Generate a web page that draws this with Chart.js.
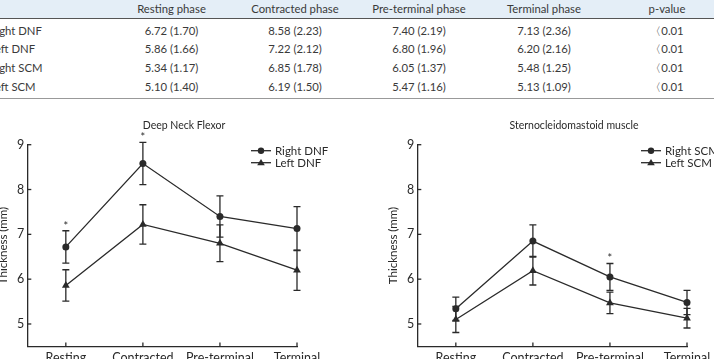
<!DOCTYPE html>
<html>
<head>
<meta charset="utf-8">
<script src="https://cdn.jsdelivr.net/npm/chart.js@4/dist/chart.umd.min.js"></script>
<style>
  html, body { margin: 0; padding: 0; background: #fff; }
  body { width: 714px; height: 359px; overflow: hidden; position: relative;
         font-family: Lato, sans-serif; color: #3a3a3a; }
  .cell { position: absolute; height: 16px; line-height: 16px; font-size: 11.3px; white-space: nowrap; }
  canvas { position: absolute; }
</style>
</head>
<body>
<div id="tbl"></div>
<canvas id="c1" width="380" height="280" style="left:-33px;top:110px;width:380px;height:280px"></canvas>
<canvas id="c2" width="380" height="280" style="left:357px;top:110px;width:380px;height:280px"></canvas>
<script>
// ---------- data ----------
const phases = ['Resting', 'Contracted', 'Pre-terminal', 'Terminal'];
const tableHeader = ['Resting phase', 'Contracted phase', 'Pre-terminal phase', 'Terminal phase', 'p-value'];
const rowLabels = ['Right DNF', 'Left DNF', 'Right SCM', 'Left SCM'];
const rightDNF = [6.72, 8.58, 7.40, 7.13];
const leftDNF  = [5.86, 7.22, 6.80, 6.20];
const rightSCM = [5.34, 6.85, 6.05, 5.48];
const leftSCM  = [5.10, 6.19, 5.47, 5.13];
const rightDNFsd = [1.70, 2.23, 2.19, 2.36];
const leftDNFsd  = [1.66, 2.12, 1.96, 2.16];
const rightSCMsd = [1.17, 1.78, 1.37, 1.25];
const leftSCMsd  = [1.40, 1.50, 1.16, 1.09];
const pValues = ['〈0.01', '〈0.01', '〈0.01', '〈0.01'];
// error bars as drawn in the figure
const rightDNFerr = [0.36, 0.47, 0.46, 0.49];
const leftDNFerr  = [0.35, 0.44, 0.41, 0.45];
const rightSCMerr = [0.26, 0.36, 0.30, 0.27];
const leftSCMerr  = [0.29, 0.32, 0.24, 0.22];
// significance marks
const rightDNFstar = [true, true, false, false];
const rightSCMstar = [false, false, true, false];
const yTicks = [5, 6, 7, 8, 9];

// ---------- table ----------
(function buildTable(){
  const tbl = document.getElementById('tbl');
  const colX = [171.5, 295, 419, 544, 667];
  const rowY = [30.5, 49.3, 68, 87.3];
  function add(html, style){ const d = document.createElement('div'); d.className='cell'; d.textContent = html; Object.assign(d.style, style); tbl.appendChild(d); return d; }
  const bg = document.createElement('div');
  Object.assign(bg.style, {position:'absolute', left:'0', top:'0', width:'714px', height:'18px', background:'#e4eef7'});
  tbl.appendChild(bg);
  const l1 = document.createElement('div');
  Object.assign(l1.style, {position:'absolute', left:'0', top:'18px', width:'714px', height:'1px', background:'#555'});
  tbl.appendChild(l1);
  const l2 = document.createElement('div');
  Object.assign(l2.style, {position:'absolute', left:'0', top:'97.5px', width:'714px', height:'1.5px', background:'#999'});
  tbl.appendChild(l2);
  tableHeader.forEach((h,i)=> add(h, {left:(colX[i]-60)+'px', width:'120px', textAlign:'center', top:(8.5-8)+'px'}));
  const means = [rightDNF, leftDNF, rightSCM, leftSCM];
  const sds = [rightDNFsd, leftDNFsd, rightSCMsd, leftSCMsd];
  rowLabels.forEach((lab, r) => {
    add(lab, {left:'-10.5px', top:(rowY[r]-8)+'px'});
    for (let c = 0; c < 4; c++) {
      add(means[r][c].toFixed(2) + ' (' + sds[r][c].toFixed(2) + ')', {left:(colX[c]-60)+'px', width:'120px', textAlign:'center', top:(rowY[r]-8)+'px'});
    }
    add(pValues[r], {left:(colX[4]-60)+'px', width:'120px', textAlign:'center', top:(rowY[r]-8)+'px'});
  });
})();

// ---------- charts ----------
const FONT = 'Lato, sans-serif';
const INK = '#2a2a2a';

const extrasPlugin = {
  id: 'extras',
  beforeDatasetsDraw(chart) {
    const ctx = chart.ctx, xs = chart.scales.x, ys = chart.scales.y;
    const cfg = chart.options.plugins.extras;
    ctx.save();
    ctx.strokeStyle = INK; ctx.lineWidth = 1.3;
    ys.ticks.forEach(t => { const y = ys.getPixelForValue(t.value); ctx.beginPath(); ctx.moveTo(xs.left, y); ctx.lineTo(xs.left + 4, y); ctx.stroke(); });
    xs.ticks.forEach(t => { const x = xs.getPixelForValue(t.value); ctx.beginPath(); ctx.moveTo(x, ys.bottom); ctx.lineTo(x, ys.bottom - 4); ctx.stroke(); });
    cfg.errors.forEach((errs, di) => {
      const vals = chart.data.datasets[di].data;
      vals.forEach((p, i) => {
        const x = xs.getPixelForValue(p.x);
        const yt = ys.getPixelForValue(p.y + errs[i]);
        const yb = ys.getPixelForValue(p.y - errs[i]);
        ctx.beginPath();
        ctx.moveTo(x, yt); ctx.lineTo(x, yb);
        ctx.moveTo(x - 3.5, yt); ctx.lineTo(x + 3.5, yt);
        ctx.moveTo(x - 3.5, yb); ctx.lineTo(x + 3.5, yb);
        ctx.stroke();
      });
    });
    ctx.restore();
  },
  afterDatasetsDraw(chart) {
    const ctx = chart.ctx, xs = chart.scales.x, ys = chart.scales.y;
    const cfg = chart.options.plugins.extras;
    ctx.save();
    ctx.fillStyle = INK;
    ctx.font = '11px ' + FONT; ctx.textAlign = 'center'; ctx.textBaseline = 'alphabetic';
    cfg.stars.forEach((flags, di) => {
      if (!flags) return;
      const vals = chart.data.datasets[di].data;
      flags.forEach((f, i) => {
        if (!f) return;
        const x = xs.getPixelForValue(vals[i].x);
        const y = ys.getPixelForValue(vals[i].y + cfg.errors[di][i]);
        ctx.fillText('*', x, y - 1);
      });
    });
    ctx.font = '10.5px ' + FONT; ctx.textBaseline = 'middle';
    ctx.fillText(cfg.title, 217, 16);
    const lx = 284, lw = 20;
    chart.data.datasets.forEach((ds, i) => {
      const y = 40.7 + i * 12;
      ctx.strokeStyle = INK; ctx.lineWidth = 1.3;
      ctx.beginPath(); ctx.moveTo(lx, y); ctx.lineTo(lx + lw, y); ctx.stroke();
      const cx = lx + lw / 2;
      ctx.beginPath();
      if (ds.pointStyle === 'triangle') {
        ctx.moveTo(cx, y - 3.8); ctx.lineTo(cx + 3.8, y + 2.6); ctx.lineTo(cx - 3.8, y + 2.6); ctx.closePath();
      } else {
        ctx.arc(cx, y, 3.2, 0, Math.PI * 2);
      }
      ctx.fill();
      ctx.font = '11.5px ' + FONT; ctx.textAlign = 'left'; ctx.textBaseline = 'middle';
      ctx.fillText(ds.label, lx + lw + 4, y + 0.5);
    });
    ctx.restore();
  }
};

function makeChart(id, title, labels, series, errors, stars) {
  const styles = ['circle', 'triangle'];
  return new Chart(document.getElementById(id), {
    type: 'line',
    data: {
      datasets: series.map((s, k) => ({
        label: labels[k],
        data: s.map((v, i) => ({ x: i, y: v })),
        borderColor: INK, backgroundColor: INK,
        borderWidth: 1.3,
        pointStyle: styles[k],
        pointRadius: k === 0 ? 3.5 : 4.5,
        pointBorderWidth: 0,
        pointBackgroundColor: INK,
        tension: 0, clip: false
      }))
    },
    options: {
      responsive: false, animation: false, devicePixelRatio: 1,
      layout: { padding: { top: 34.7, right: 50, left: 0, bottom: 0 } },
      plugins: { legend: { display: false }, tooltip: { enabled: false }, title: { display: false },
        extras: { title: title, errors: errors, stars: stars } },
      scales: {
        x: {
          type: 'linear', min: -0.5, max: 3,
          grid: { display: false, drawTicks: false },
          border: { display: true, color: INK, width: 1.3 },
          afterBuildTicks: s => { s.ticks = phases.map((p, i) => ({ value: i })); },
          afterFit: s => { s.height = 43.6; },
          ticks: { padding: 4, color: INK, font: { family: FONT, size: 12.5 }, maxRotation: 0, autoSkip: false,
                   callback: v => phases[v] }
        },
        y: {
          min: 4.5, max: 9,
          grid: { display: false, drawTicks: false },
          border: { display: true, color: INK, width: 1.3 },
          afterBuildTicks: s => { s.ticks = yTicks.map(v => ({ value: v })); },
          afterFit: s => { s.width = 60.3; },
          ticks: { padding: 3, color: INK, font: { family: FONT, size: 12.5 } },
          title: { display: true, text: 'Thickness (mm)', color: INK, font: { family: FONT, size: 11.5 }, padding: { top: 29, bottom: 0 } }
        }
      }
    },
    plugins: [extrasPlugin]
  });
}

makeChart('c1', 'Deep Neck Flexor', ['Right DNF', 'Left DNF'], [rightDNF, leftDNF], [rightDNFerr, leftDNFerr], [rightDNFstar, null]);
makeChart('c2', 'Sternocleidomastoid muscle', ['Right SCM', 'Left SCM'], [rightSCM, leftSCM], [rightSCMerr, leftSCMerr], [rightSCMstar, null]);
</script>
</body>
</html>
